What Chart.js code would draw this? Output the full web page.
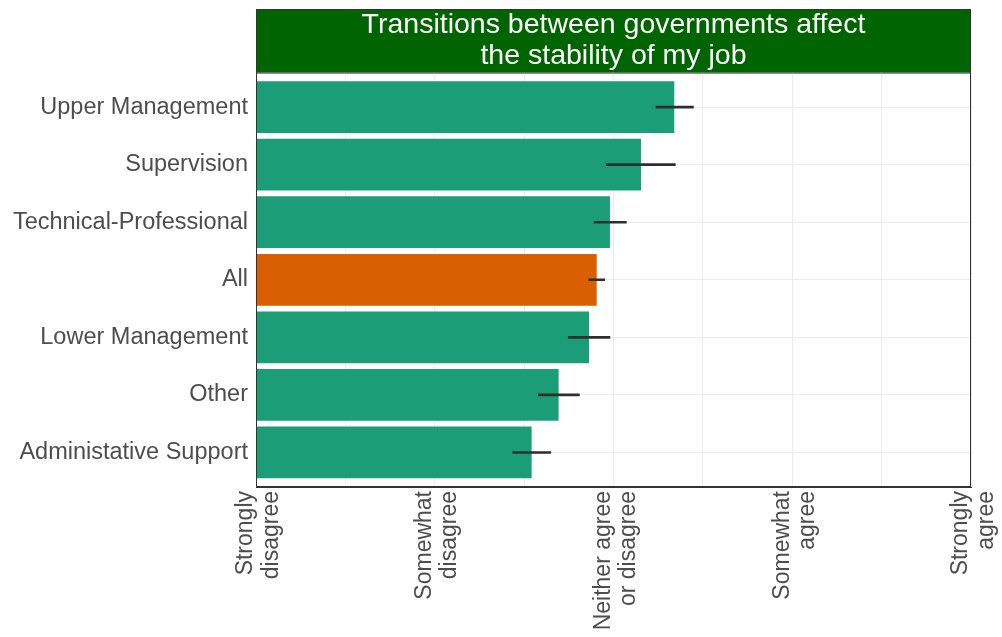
<!DOCTYPE html>
<html>
<head>
<meta charset="utf-8">
<script src="https://cdn.jsdelivr.net/npm/chart.js@4.4.1/dist/chart.umd.min.js"></script>
<style>
html,body{margin:0;padding:0;background:#fff;}
#c{display:block;}
</style>
</head>
<body>
<canvas id="c" width="1002" height="637"></canvas>
<script>
const categories = ["Upper Management","Supervision","Technical-Professional","All","Lower Management","Other","Administative Support"];
const means = [3.340, 3.154, 2.980, 2.906, 2.863, 2.693, 2.542];
const lower = [3.238, 2.960, 2.891, 2.861, 2.747, 2.580, 2.436];
const upper = [3.447, 3.346, 3.072, 2.951, 2.980, 2.809, 2.649];
const barColors = ["#1b9e77","#1b9e77","#1b9e77","#d95f02","#1b9e77","#1b9e77","#1b9e77"];
const tickValues = [1, 2, 3, 4, 5];
const tickLabels = [["Strongly","disagree"],["Somewhat","disagree"],["Neither agree","or disagree"],["Somewhat","agree"],["Strongly","agree"]];
const titleLines = ["Transitions between governments affect","the stability of my job"];

const FONT = "'Liberation Sans', Arial, Helvetica, sans-serif";

const stripPlugin = {
  id: 'strip',
  beforeDraw(chart) {
    const ca = chart.chartArea, tb = chart.titleBlock, ctx = chart.ctx;
    ctx.save();
    ctx.fillStyle = '#006400';
    ctx.fillRect(ca.left, tb.top, ca.right - ca.left, ca.top - tb.top);
    ctx.restore();
  },
  afterDraw(chart) {
    const ca = chart.chartArea, tb = chart.titleBlock, ctx = chart.ctx;
    ctx.save();
    ctx.strokeStyle = '#333333';
    ctx.lineWidth = 1;
    ctx.strokeRect(ca.left + 0.5, tb.top + 0.5, ca.right - ca.left - 1, ca.bottom - tb.top - 1);
    ctx.beginPath();
    ctx.moveTo(ca.left, ca.top + 0.5);
    ctx.lineTo(ca.right, ca.top + 0.5);
    ctx.stroke();
    ctx.restore();
  }
};

new Chart(document.getElementById('c'), {
  type: 'bar',
  data: {
    labels: categories,
    datasets: [
      {
        label: 'Error',
        data: categories.map((c, i) => [lower[i], upper[i]]),
        backgroundColor: '#2e2e2e',
        barThickness: 2,
        grouped: false,
        order: 0
      },
      {
        label: 'Mean',
        data: means,
        backgroundColor: barColors,
        borderWidth: 0,
        categoryPercentage: 1.0,
        barPercentage: 0.9,
        grouped: false,
        order: 1
      }
    ]
  },
  plugins: [stripPlugin],
  options: {
    indexAxis: 'y',
    responsive: false,
    animation: false,
    devicePixelRatio: 1,
    layout: { padding: { top: 9, right: 31, left: 0, bottom: 0 } },
    plugins: {
      legend: { display: false },
      tooltip: { enabled: false },
      title: {
        display: true,
        text: titleLines,
        fullSize: false,
        color: '#ffffff',
        font: { family: FONT, size: 28.5, weight: 'normal', lineHeight: 1.08 },
        padding: { top: 1, bottom: 1 }
      }
    },
    scales: {
      x: {
        type: 'linear',
        min: 1,
        max: 5,
        afterBuildTicks(scale) {
          const t = [];
          for (let v = 1; v <= 5.0001; v += 0.5) t.push({ value: Math.round(v * 2) / 2 });
          scale.ticks = t;
        },
        afterFit(scale) { scale.height = 150; scale.paddingRight = 0; scale.paddingLeft = 0; },
        grid: { color: '#ebebeb', lineWidth: 1, drawTicks: false },
        border: { display: true, color: '#333333', width: 1 },
        ticks: {
          autoSkip: false,
          minRotation: 90,
          maxRotation: 90,
          padding: 4,
          labelOffset: -10,
          color: '#4d4d4d',
          font: { family: FONT, size: 23, lineHeight: 1.1 },
          callback(value) {
            const i = tickValues.indexOf(value);
            return i >= 0 ? tickLabels[i] : '';
          }
        }
      },
      y: {
        afterFit(scale) { scale.width = 256; },
        afterUpdate(scale) { scale._startValue -= 0.1; scale._valueRange += 0.2; },
        grid: { color: '#ebebeb', lineWidth: 1, drawTicks: false, offset: false },
        border: { display: true, color: '#333333', width: 1 },
        ticks: {
          padding: 8,
          color: '#4d4d4d',
          font: { family: FONT, size: 23.5 }
        }
      }
    }
  }
});
</script>
</body>
</html>
